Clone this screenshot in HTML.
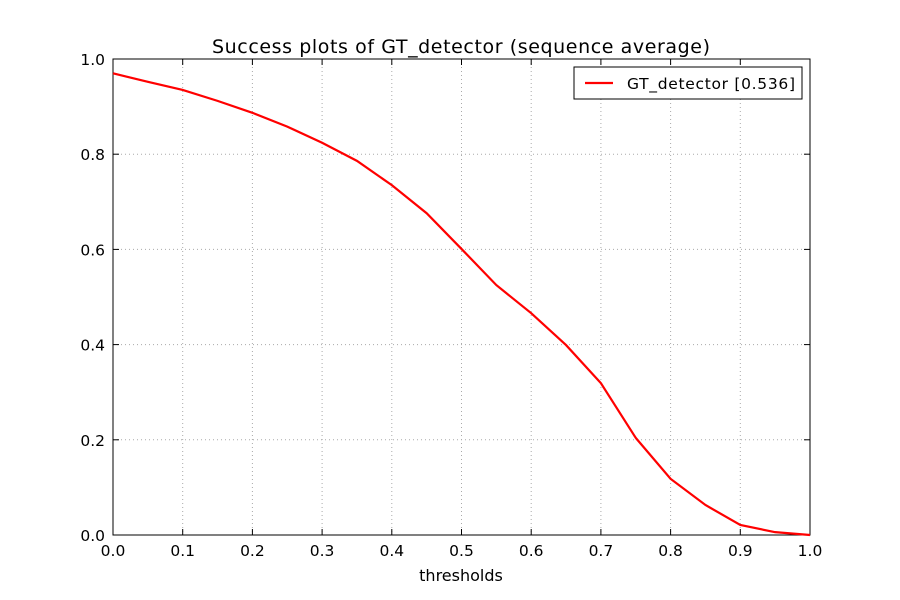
<!DOCTYPE html>
<html><head><meta charset="utf-8"><style>
body{margin:0;background:#fff;}
text{font-family:"DejaVu Sans","Liberation Sans",sans-serif;fill:#000;}
</style></head><body>
<svg id="chart" width="900" height="595" xmlns="http://www.w3.org/2000/svg">
<rect width="900" height="595" fill="#fff"/>
<g id="grid"></g>
<g id="ticks"></g>
<rect x="113" y="59" width="697" height="476" fill="none" stroke="#000" stroke-width="1"/>
<path id="line" fill="none" stroke="#ff0000" stroke-width="2.2"/>
<text x="461" y="53" font-size="19" textLength="498" text-anchor="middle">Success plots of GT_detector (sequence average)</text>
<text x="461" y="581" font-size="16" text-anchor="middle">thresholds</text>
<g>
<rect x="574" y="67" width="228" height="32" fill="#fff" stroke="#000" stroke-width="1"/>
<line x1="585" y1="83" x2="613" y2="83" stroke="#ff0000" stroke-width="2.2"/>
<text x="627" y="89" font-size="15.5" textLength="168">GT_detector [0.536]</text>
</g>
</svg>
<script>
const thresholds=[0,0.05,0.1,0.15,0.2,0.25,0.3,0.35,0.4,0.45,0.5,0.55,0.6,0.65,0.7,0.75,0.8,0.85,0.9,0.95,1.0];
const successRate=[0.97,0.952,0.935,0.912,0.887,0.858,0.824,0.786,0.735,0.676,0.601,0.525,0.466,0.399,0.319,0.204,0.118,0.063,0.021,0.006,0.0];
const xTicks=[0,0.1,0.2,0.3,0.4,0.5,0.6,0.7,0.8,0.9,1.0];
const yTicks=[0,0.2,0.4,0.6,0.8,1.0];
const NS="http://www.w3.org/2000/svg";
const X=v=>113+v*697, Y=v=>535-v*476;
const grid=document.getElementById('grid'), ticks=document.getElementById('ticks');
function mk(tag,attrs,parent){const e=document.createElementNS(NS,tag);for(const k in attrs)e.setAttribute(k,attrs[k]);parent.appendChild(e);return e;}
xTicks.forEach(v=>{
  const g=mk('line',{x1:X(v),x2:X(v),y1:59,y2:535,stroke:'#aaa','stroke-dasharray':'1,3'},grid);
  
  
  mk('line',{x1:X(v),x2:X(v),y1:535,y2:529,stroke:'#000'},ticks);
  mk('line',{x1:X(v),x2:X(v),y1:59,y2:65,stroke:'#000'},ticks);
  const t=mk('text',{x:X(v),y:556,'font-size':15.5,'text-anchor':'middle'},ticks);
  t.textContent=v.toFixed(1);
  
  
});
yTicks.forEach(v=>{
  const g=mk('line',{x1:113,x2:810,y1:Y(v),y2:Y(v),stroke:'#aaa','stroke-dasharray':'1,3'},grid);
  
  
  mk('line',{x1:113,x2:119,y1:Y(v),y2:Y(v),stroke:'#000'},ticks);
  mk('line',{x1:810,x2:804,y1:Y(v),y2:Y(v),stroke:'#000'},ticks);
  const t=mk('text',{x:105,y:Y(v)+6,'font-size':15.5,'text-anchor':'end'},ticks);
  t.textContent=v.toFixed(1);
  
  
});
document.getElementById('line').setAttribute('d',thresholds.map((t,i)=>(i?'L':'M')+X(t)+','+Y(successRate[i])).join(''));
</script>
</body></html>
